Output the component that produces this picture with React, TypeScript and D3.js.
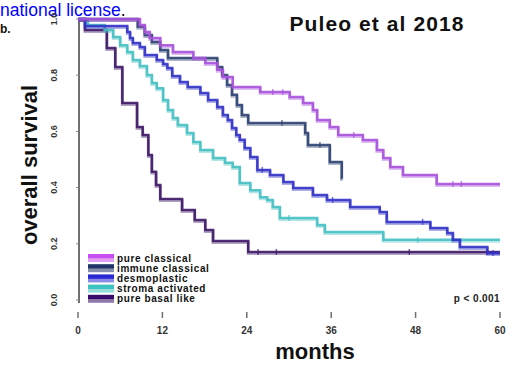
import React from "react";
import * as d3 from "d3";

const W = 513;
const H = 365;

const xTicks = [0, 12, 24, 36, 48, 60];
const yTicks = [0, 0.2, 0.4, 0.6, 0.8, 1.0];

const seriesNames = ["pure classical", "immune classical", "desmoplastic", "stroma activated", "pure basal like"];
const seriesColors = ["#a852dc", "#2e4272", "#3232c8", "#45c0c2", "#3e1868"];
const legendColors = ["#c94cf0", "#1f3468", "#2a2ad2", "#3fc2c2", "#3a0a6c"];

// Kaplan-Meier steps (time in months, survival)
const pureClassicalT = [0, 8.8, 9.5, 10.2, 11.7, 13.5, 16.4, 18.1, 19.8, 20.6, 22.0, 25.9, 30.1, 32.0, 33.4, 34.0, 35.8, 37.0, 40.5, 42.5, 43.4, 44.4, 46.2, 51.0, 60];
const pureClassicalS = [1.0, 0.979, 0.954, 0.932, 0.907, 0.883, 0.861, 0.843, 0.819, 0.794, 0.758, 0.74, 0.722, 0.701, 0.676, 0.641, 0.616, 0.587, 0.569, 0.534, 0.505, 0.473, 0.445, 0.413, 0.413];
const pureClassicalCens = [27.7, 29.1, 39.2, 53.3, 54.5];

const immuneClassicalT = [0, 8.5, 9.5, 10.5, 11.7, 12.8, 19.8, 20.5, 21.2, 21.9, 22.6, 23.3, 24.2, 32.3, 32.7, 35.8, 37.5, 37.6];
const immuneClassicalS = [1.0, 0.972, 0.943, 0.918, 0.89, 0.861, 0.829, 0.801, 0.765, 0.73, 0.694, 0.658, 0.63, 0.594, 0.552, 0.491, 0.434, 0.434];
const immuneClassicalCens = [29.0, 34.4];

const desmoplasticT = [0, 1.0, 7.0, 7.4, 7.8, 8.8, 9.5, 11.2, 12.1, 12.7, 13.4, 14.5, 15.6, 17.4, 18.5, 19.8, 20.6, 21.3, 21.9, 22.5, 23.0, 23.7, 24.5, 25.5, 27.3, 29.2, 30.6, 33.4, 35.4, 38.7, 42.9, 43.9, 50.1, 52.5, 53.3, 54.3, 58.2, 60];
const desmoplasticS = [1.0, 0.975, 0.954, 0.932, 0.915, 0.9, 0.872, 0.854, 0.84, 0.826, 0.797, 0.776, 0.758, 0.737, 0.712, 0.687, 0.658, 0.641, 0.612, 0.587, 0.57, 0.541, 0.509, 0.463, 0.445, 0.42, 0.399, 0.374, 0.356, 0.331, 0.313, 0.278, 0.256, 0.238, 0.214, 0.189, 0.167, 0.167];
const desmoplasticCens = [26.2, 36.2, 49.0, 59.0];

const stromaT = [0, 1.4, 3.8, 5.0, 6.0, 7.0, 7.8, 8.8, 9.8, 10.5, 11.2, 12.1, 12.8, 13.5, 14.2, 15.5, 16.4, 17.4, 19.2, 20.9, 22.0, 23.0, 24.5, 25.9, 26.9, 27.7, 28.7, 34.0, 35.1, 43.4, 60];
const stromaS = [1.0, 0.979, 0.961, 0.936, 0.907, 0.883, 0.854, 0.833, 0.801, 0.772, 0.754, 0.712, 0.676, 0.648, 0.623, 0.594, 0.562, 0.534, 0.505, 0.488, 0.473, 0.416, 0.391, 0.366, 0.356, 0.331, 0.292, 0.267, 0.242, 0.214, 0.214];
const stromaCens = [30.0, 48.3];

const pureBasalT = [0, 1.0, 4.1, 5.3, 6.3, 8.4, 9.2, 10.0, 10.5, 11.1, 11.7, 14.8, 16.6, 18.1, 19.2, 24.2, 60];
const pureBasalS = [1.0, 0.961, 0.897, 0.829, 0.701, 0.616, 0.587, 0.516, 0.456, 0.409, 0.359, 0.32, 0.285, 0.249, 0.21, 0.171, 0.171];
const pureBasalCens = [25.6, 28.2, 47.1, 58.2];

const seriesT = [pureClassicalT, immuneClassicalT, desmoplasticT, stromaT, pureBasalT];
const seriesS = [pureClassicalS, immuneClassicalS, desmoplasticS, stromaS, pureBasalS];
const seriesCens = [pureClassicalCens, immuneClassicalCens, desmoplasticCens, stromaCens, pureBasalCens];

const x = d3.scaleLinear().domain([0, 60]).range([78, 500]);
const y = d3.scaleLinear().domain([0, 1]).range([300, 19]);

function survAt(ts: number[], ss: number[], t: number) {
  let v = ss[0];
  for (let i = 0; i < ts.length; i++) if (ts[i] <= t) v = ss[i];
  return v;
}

export default function App() {
  const line = d3
    .line<[number, number]>()
    .x((d) => x(d[0]))
    .y((d) => y(d[1]))
    .curve(d3.curveStepAfter);

  const order = [4, 3, 2, 1, 0];

  return (
    <svg width={W} height={H} style={{ position: "absolute", left: 0, top: 0, background: "#fff" }} fontFamily="Liberation Sans, Arial, sans-serif">
      {/* header remnants */}
      <text x={0} y={16} fontSize={17.5} fill="#0000ff">
        national license<tspan fill="#000">.</tspan>
      </text>
      <text x={0} y={33} fontSize={12} fontWeight="bold" fill="#111">b.</text>

      {/* title */}
      <text x={377} y={31} fontSize={21} fontWeight="bold" textAnchor="middle" letterSpacing={1.1} fill="#111">
        Puleo et al 2018
      </text>

      {/* y axis */}
      <line x1={79} x2={79} y1={y(1) - 1} y2={y(0) + 3} stroke="#707070" strokeWidth={2} />
      {yTicks.map((t) => (
        <g key={"yt" + t}>
          <line x1={76} x2={79} y1={y(t)} y2={y(t)} stroke="#888" strokeWidth={1} />
          <text
            transform={`translate(57,${y(t)}) rotate(-90)`}
            fontSize={9}
            fontWeight="bold"
            textAnchor="middle"
            fill="#333"
          >
            {t.toFixed(1)}
          </text>
        </g>
      ))}
      <text transform={`translate(37,165) rotate(-90)`} fontSize={22} fontWeight="bold" textAnchor="middle" fill="#111">
        overall survival
      </text>

      {/* x axis ticks */}
      {xTicks.map((t) => (
        <g key={"xt" + t}>
          <line x1={x(t)} x2={x(t)} y1={312} y2={318} stroke="#707070" strokeWidth={1.5} />
          <text x={x(t)} y={334} fontSize={10} fontWeight="bold" textAnchor="middle" fill="#333">
            {t}
          </text>
        </g>
      ))}
      <text x={315} y={359} fontSize={22} fontWeight="bold" textAnchor="middle" fill="#111">
        months
      </text>

      {/* curves */}
      {order.map((i) => {
        const pts: [number, number][] = seriesT[i].map((t, k) => [t, seriesS[i][k]]);
        const d = line(pts) || "";
        return (
          <g key={"s" + i}>
            <path d={d} transform="translate(0,1.5)" fill="none" stroke={seriesColors[i]} strokeOpacity={0.4} strokeWidth={3} />
            <path d={d} fill="none" stroke={seriesColors[i]} strokeOpacity={0.9} strokeWidth={2.5} />
            {seriesCens[i].map((c) => (
              <line
                key={"c" + c}
                x1={x(c)}
                x2={x(c)}
                y1={y(survAt(seriesT[i], seriesS[i], c)) - 3}
                y2={y(survAt(seriesT[i], seriesS[i], c)) + 3}
                stroke={seriesColors[i]}
                strokeOpacity={0.7}
                strokeWidth={1.5}
              />
            ))}
          </g>
        );
      })}

      {/* legend */}
      {seriesNames.map((n, i) => {
        const cy = 258 + i * 10.2;
        return (
          <g key={"lg" + i}>
            <rect x={88} y={cy - 4} width={26} height={4.5} fill={legendColors[i]} />
            <rect x={88} y={cy + 0.5} width={26} height={3.5} fill={legendColors[i]} fillOpacity={0.55} />
            <text x={117} y={cy + 3.5} fontSize={10} fontWeight="bold" letterSpacing={0.6} fill="#111">
              {n}
            </text>
          </g>
        );
      })}

      <text x={500} y={302} fontSize={10} fontWeight="bold" textAnchor="end" letterSpacing={0.4} fill="#222">
        p &lt; 0.001
      </text>
    </svg>
  );
}
